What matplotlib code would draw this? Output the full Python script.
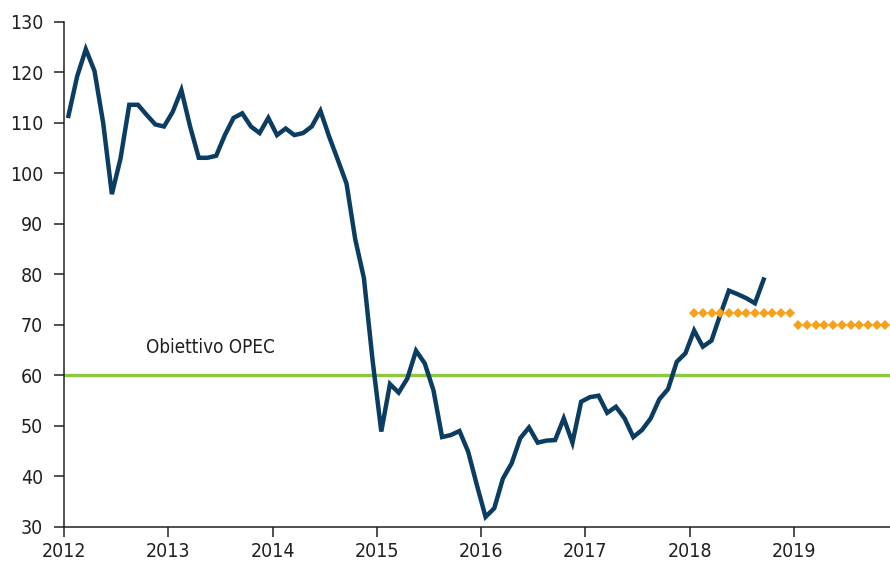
import matplotlib
matplotlib.use("Agg")
import matplotlib.pyplot as plt
import numpy as np

# Brent monthly average (USD/bbl), Jan 2012 - Sep 2018
start_year = 2012
brent = [
    111.4, 119.2, 124.6, 120.3, 110.0, 95.9, 103.0, 113.6, 113.6, 111.6, 109.7, 109.3,  # 2012
    112.2, 116.5, 109.3, 103.1, 103.1, 103.5, 107.6, 111.0, 111.9, 109.3, 108.0, 111.0,  # 2013
    107.6, 108.9, 107.6, 108.0, 109.3, 112.4, 107.3, 102.7, 98.0, 87.0, 79.3, 63.0,      # 2014
    48.9, 58.3, 56.6, 59.4, 64.9, 62.4, 57.1, 47.8, 48.2, 49.0, 44.9, 38.3,              # 2015
    32.0, 33.7, 39.6, 42.6, 47.6, 49.7, 46.7, 47.1, 47.2, 51.5, 46.7, 54.8,              # 2016
    55.7, 56.0, 52.6, 53.8, 51.5, 47.8, 49.2, 51.5, 55.3, 57.3, 62.7, 64.4,              # 2017
    68.9, 65.7, 66.9, 72.0, 76.8, 76.1, 75.3, 74.3, 79.0,                                # 2018
]
# forecast averages (orange diamonds)
forecast_years = [2018, 2019]
forecast_values = [72.3, 70.0]
opec_target = 60
opec_label = "Obiettivo OPEC"

x_ticks = list(range(2012, 2020))

def month_pos(i, y0=start_year):
    return y0 + (i + 0.5) / 12

navy = "#0b3c61"
orange = "#f7a11a"
green = "#8dc63f"
text_col = "#231f20"

plt.rcParams["font.family"] = ["DejaVu Sans"]
plt.rcParams["font.stretch"] = "condensed"

fig = plt.figure(figsize=(8.9, 5.63), dpi=100)
ax = fig.add_axes([0.072, 0.064, 0.928, 0.897])

ax.axhline(opec_target, color=green, lw=2.4, zorder=2)

x = [month_pos(i) for i in range(len(brent))]
ax.plot(x, brent, color=navy, lw=3.2, solid_joinstyle="miter", zorder=3)

for yr, val in zip(forecast_years, forecast_values):
    fx = [yr + (m + 0.5) / 12 for m in range(12)]
    ax.plot(fx, [val] * 12, linestyle="none", marker="D", markersize=5,
            color=orange, markeredgewidth=0, zorder=4)

ax.text(2012.79, 65.6, opec_label, fontsize=13.5, color=text_col,
        ha="left", va="center")

ax.set_xlim(2012, 2019.92)
ax.set_ylim(30, 130)
ax.set_xticks(x_ticks)
ax.set_xticklabels([str(t) for t in x_ticks])
ax.set_yticks(np.arange(30, 131, 10))

for s in ["top", "right"]:
    ax.spines[s].set_visible(False)
for s in ["left", "bottom"]:
    ax.spines[s].set_color(text_col)
    ax.spines[s].set_linewidth(1.1)

ax.tick_params(axis="both", direction="out", length=7, width=1.1,
               color=text_col, labelsize=14, labelcolor=text_col)
ax.tick_params(axis="y", pad=8)
ax.tick_params(axis="x", pad=4)

fig.savefig("out.png", dpi=100)
